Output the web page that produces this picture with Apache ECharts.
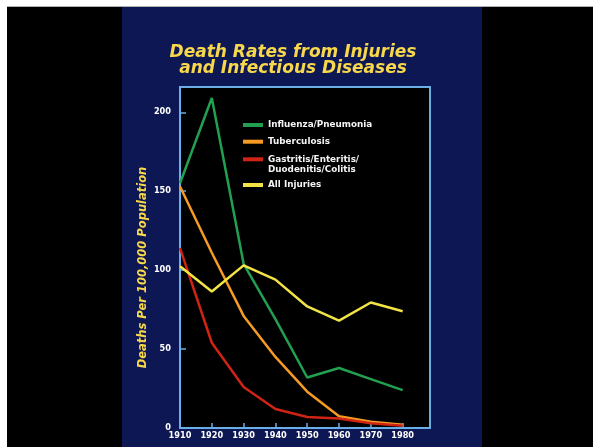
<!DOCTYPE html>
<html>
<head>
<meta charset="utf-8">
<script src="https://cdn.jsdelivr.net/npm/echarts@6/dist/echarts.min.js"></script>
<style>
html,body{margin:0;padding:0;background:#ffffff;}
#chart{width:593px;height:447px;}
</style>
</head>
<body>
<div id="chart"></div>
<script>
var years = [1910, 1920, 1930, 1940, 1950, 1960, 1970, 1980];
var influenzaPneumonia = [155, 209, 104, 69, 32, 38, 31, 24];
var tuberculosis = [153, 111, 71, 45, 23, 7.5, 4, 2];
var gastritisEtc = [114, 54, 26, 12, 7, 6, 3, 1.5];
var allInjuries = [102.5, 86.5, 103, 94, 77, 68, 79.5, 74];
var yTicks = [0, 50, 100, 150, 200];
var xTicks = years;

var seriesNames = ['Influenza/Pneumonia', 'Tuberculosis', 'Gastritis/Enteritis/\nDuodenitis/Colitis', 'All Injuries'];
var seriesValues = [influenzaPneumonia, tuberculosis, gastritisEtc, allInjuries];
var seriesColors = ['#21a150', '#f59a22', '#cf2414', '#f2e444'];

function pairs(vals) { return years.map(function (y, i) { return [y, vals[i]]; }); }

var chart = echarts.init(document.getElementById('chart'), null, {renderer: 'canvas'});
var blue = '#6aaee6';
var labelFont = {color: '#ffffff', fontFamily: 'DejaVu Sans', fontWeight: 'bold', fontSize: 8.2};

var legendTops = [120, 136.7, 144.3, 180];
var legends = seriesNames.map(function (n, i) {
  return {
    data: [n],
    left: 243, top: legendTops[i], padding: 0,
    icon: 'rect', itemWidth: 20, itemHeight: 4,
    selectedMode: false,
    formatter: i === 2 ? function (name) { return '\n' + name; } : '{name}',
    textStyle: {color: '#f4f4f4', fontFamily: 'DejaVu Sans', fontWeight: 'bold', fontSize: 8.8, lineHeight: 10}
  };
});

chart.setOption({
  animation: false,
  backgroundColor: '#ffffff',
  graphic: [
    {type: 'rect', z: -10, shape: {x: 7, y: 6, width: 586, height: 441}, style: {fill: '#000000'}},
    {type: 'line', z: -9, shape: {x1: 7, y1: 6.5, x2: 593, y2: 6.5}, style: {stroke: '#b0b0b0', lineWidth: 1}},
    {type: 'rect', z: -8, shape: {x: 122, y: 7, width: 360, height: 440}, style: {fill: '#0c1754'}}
  ],
  title: {
    text: 'Death Rates from Injuries\nand Infectious Diseases',
    left: 293, top: 45, padding: 0, textAlign: 'center',
    textStyle: {
      color: '#f8d84a', fontFamily: 'DejaVu Sans', fontWeight: 'bold', fontStyle: 'italic',
      fontSize: 17, lineHeight: 16,
      textShadowColor: '#d9480f', textShadowOffsetX: 1.2, textShadowOffsetY: 1.2, textShadowBlur: 0
    }
  },
  legend: legends,
  grid: {
    left: 180, top: 87, width: 250, height: 341,
    show: true, backgroundColor: '#000000', borderColor: blue, borderWidth: 2
  },
  xAxis: {
    type: 'value', min: 1910, max: 1988.6, interval: 10,
    splitLine: {show: false},
    axisLine: {show: true, lineStyle: {color: blue, width: 2}},
    axisTick: {show: true, inside: true, length: 5, lineStyle: {color: blue, width: 1.5}},
    axisLabel: Object.assign({margin: 4, showMaxLabel: false,
      formatter: function (v) { return xTicks.indexOf(v) >= 0 ? String(v) : ''; }}, labelFont)
  },
  yAxis: {
    type: 'value', min: 0, max: 216, interval: 50,
    name: 'Deaths Per 100,000 Population',
    nameLocation: 'middle', nameGap: 31, nameRotate: 90,
    nameTextStyle: {
      color: '#f8d84a', fontFamily: 'DejaVu Sans', fontWeight: 'bold', fontStyle: 'italic', fontSize: 11.5,
      padding: [0, 20, 0, 0],
      textShadowColor: '#d9480f', textShadowOffsetX: 1, textShadowOffsetY: 1
    },
    splitLine: {show: false},
    axisLine: {show: true, lineStyle: {color: blue, width: 2}},
    axisTick: {show: true, inside: true, length: 6, lineStyle: {color: blue, width: 1.5}},
    axisLabel: Object.assign({margin: 9, showMaxLabel: false,
      formatter: function (v) { return yTicks.indexOf(v) >= 0 ? String(v) : ''; }}, labelFont)
  },
  series: seriesNames.map(function (n, i) {
    return {
      name: n, type: 'line', data: pairs(seriesValues[i]),
      showSymbol: false, symbol: 'none',
      lineStyle: {color: seriesColors[i], width: 2.5},
      itemStyle: {color: seriesColors[i]}
    };
  })
});
</script>
</body>
</html>
